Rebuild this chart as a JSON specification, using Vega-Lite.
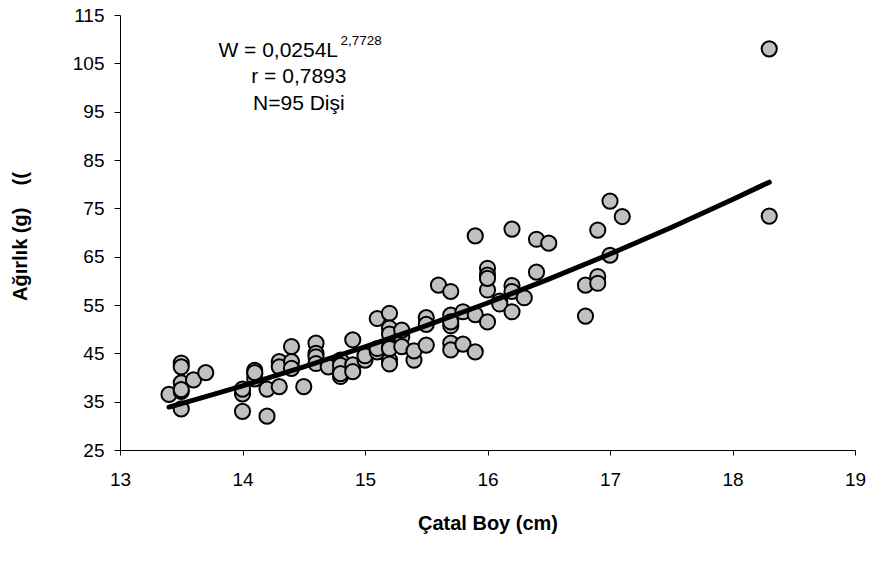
{
  "$schema": "https://vega.github.io/schema/vega-lite/v6.json",
  "width": 735,
  "height": 435,
  "autosize": {"type": "none"},
  "padding": {"left": 120, "top": 15, "right": 14, "bottom": 112},
  "background": "white",
  "config": {
    "view": {"stroke": null},
    "font": "Liberation Sans",
    "axis": {
      "grid": false,
      "labelFlush": false,
      "labelOverlap": false,
      "domainColor": "black",
      "domainWidth": 1,
      "tickColor": "black",
      "tickWidth": 1,
      "labelColor": "black",
      "labelFont": "Liberation Sans",
      "labelFontSize": 19,
      "titleFont": "Liberation Sans",
      "titleFontSize": 20,
      "titleFontWeight": "bold",
      "titleColor": "black"
    }
  },
  "datasets": {
    "points": [
      {"L": 13.4, "W": 36.5}, {"L": 13.5, "W": 33.5}, {"L": 13.5, "W": 37.1}, {"L": 13.5, "W": 38.9},
      {"L": 13.5, "W": 43.0}, {"L": 13.5, "W": 42.2}, {"L": 13.6, "W": 39.5}, {"L": 13.7, "W": 41.0},
      {"L": 13.5, "W": 37.5},
      {"L": 14.0, "W": 36.6}, {"L": 14.0, "W": 37.6}, {"L": 14.0, "W": 33.0}, {"L": 14.1, "W": 41.5},
      {"L": 14.1, "W": 40.8}, {"L": 14.1, "W": 39.7}, {"L": 14.1, "W": 41.0}, {"L": 14.2, "W": 32.0},
      {"L": 14.2, "W": 37.6}, {"L": 14.3, "W": 38.1}, {"L": 14.3, "W": 43.3}, {"L": 14.3, "W": 42.2},
      {"L": 14.4, "W": 46.4}, {"L": 14.4, "W": 43.3}, {"L": 14.4, "W": 41.9}, {"L": 14.5, "W": 38.1},
      {"L": 14.6, "W": 47.1}, {"L": 14.6, "W": 45.0}, {"L": 14.6, "W": 44.3}, {"L": 14.6, "W": 42.9},
      {"L": 14.7, "W": 42.2},
      {"L": 14.8, "W": 43.6}, {"L": 14.8, "W": 41.2}, {"L": 14.8, "W": 40.2}, {"L": 14.8, "W": 42.5},
      {"L": 14.8, "W": 40.8},
      {"L": 14.9, "W": 47.8}, {"L": 14.9, "W": 42.6}, {"L": 14.9, "W": 41.2},
      {"L": 15.0, "W": 43.6}, {"L": 15.0, "W": 44.5},
      {"L": 15.1, "W": 52.2}, {"L": 15.1, "W": 45.3}, {"L": 15.1, "W": 46.0},
      {"L": 15.2, "W": 53.3}, {"L": 15.2, "W": 50.2}, {"L": 15.2, "W": 46.4}, {"L": 15.2, "W": 43.6},
      {"L": 15.2, "W": 42.8}, {"L": 15.2, "W": 49.0}, {"L": 15.2, "W": 46.0},
      {"L": 15.3, "W": 48.4}, {"L": 15.3, "W": 46.4}, {"L": 15.3, "W": 49.8},
      {"L": 15.4, "W": 43.6}, {"L": 15.4, "W": 45.5},
      {"L": 15.5, "W": 52.4}, {"L": 15.5, "W": 51.0}, {"L": 15.5, "W": 46.7},
      {"L": 15.6, "W": 59.1},
      {"L": 15.7, "W": 57.8}, {"L": 15.7, "W": 52.9}, {"L": 15.7, "W": 50.7}, {"L": 15.7, "W": 47.1},
      {"L": 15.7, "W": 45.7}, {"L": 15.7, "W": 51.5},
      {"L": 15.8, "W": 53.6}, {"L": 15.8, "W": 46.9},
      {"L": 15.9, "W": 69.3}, {"L": 15.9, "W": 53.0}, {"L": 15.9, "W": 45.3},
      {"L": 16.0, "W": 62.6}, {"L": 16.0, "W": 61.2}, {"L": 16.0, "W": 58.1}, {"L": 16.0, "W": 51.5},
      {"L": 16.0, "W": 60.5},
      {"L": 16.1, "W": 55.8}, {"L": 16.1, "W": 55.2},
      {"L": 16.2, "W": 70.7}, {"L": 16.2, "W": 59.0}, {"L": 16.2, "W": 57.8}, {"L": 16.2, "W": 53.6},
      {"L": 16.3, "W": 56.5},
      {"L": 16.4, "W": 68.6}, {"L": 16.4, "W": 61.8},
      {"L": 16.5, "W": 67.8},
      {"L": 16.8, "W": 59.1}, {"L": 16.8, "W": 52.7},
      {"L": 16.9, "W": 70.5}, {"L": 16.9, "W": 60.9}, {"L": 16.9, "W": 59.5},
      {"L": 17.0, "W": 76.5}, {"L": 17.0, "W": 65.3},
      {"L": 17.1, "W": 73.3},
      {"L": 18.3, "W": 108.0}, {"L": 18.3, "W": 73.4}
    ],
    "fit": [
      {"L": 13.4, "W": 33.89}, {"L": 13.7, "W": 36.04}, {"L": 14.0, "W": 38.27}, {"L": 14.5, "W": 42.18},
      {"L": 15.0, "W": 46.33}, {"L": 15.5, "W": 50.74}, {"L": 16.0, "W": 55.41}, {"L": 16.5, "W": 60.35},
      {"L": 17.0, "W": 65.55}, {"L": 17.5, "W": 71.05}, {"L": 18.0, "W": 76.82}, {"L": 18.3, "W": 80.42}
    ],
    "eq": [{"L": 14.78, "W": 106.4, "t": "W = 0,0254L"}],
    "sup": [{"L": 14.80, "W": 108.8, "t": "2,7728"}],
    "rline": [{"L": 14.46, "W": 100.87, "t": "r = 0,7893"}],
    "nline": [{"L": 14.46, "W": 95.35, "t": "N=95 Dişi"}]
  },
  "encoding": {
    "x": {
      "field": "L",
      "type": "quantitative",
      "scale": {"domain": [13, 19], "nice": false, "zero": false},
      "axis": {
        "values": [13, 14, 15, 16, 17, 18, 19],
        "tickSize": 5,
        "labelPadding": 15,
        "title": "Çatal Boy (cm)",
        "titleX": 367.5,
        "titleY": 79,
        "titleBaseline": "alphabetic",
        "titleAlign": "center"
      }
    },
    "y": {
      "field": "W",
      "type": "quantitative",
      "scale": {"domain": [25, 115], "nice": false, "zero": false},
      "axis": {
        "values": [25, 35, 45, 55, 65, 75, 85, 95, 105, 115],
        "tickSize": 6,
        "labelPadding": 10,
        "title": "Ağırlık (g)\u00a0\u00a0\u00a0\u00a0((",
        "titleX": -94,
        "titleY": 221,
        "titleAngle": -90,
        "titleBaseline": "alphabetic",
        "titleAlign": "center"
      }
    }
  },
  "layer": [
    {
      "data": {"name": "points"},
      "mark": {"type": "point", "shape": "circle", "filled": true, "fill": "#C0C0C0", "stroke": "black", "strokeWidth": 2, "size": 230, "opacity": 1}
    },
    {
      "data": {"name": "fit"},
      "mark": {"type": "line", "color": "black", "strokeWidth": 5, "strokeCap": "round"}
    },
    {
      "data": {"name": "eq"},
      "mark": {"type": "text", "align": "right", "baseline": "alphabetic", "fontSize": 21, "color": "black"},
      "encoding": {"text": {"field": "t"}}
    },
    {
      "data": {"name": "sup"},
      "mark": {"type": "text", "align": "left", "baseline": "alphabetic", "fontSize": 13.5, "color": "black"},
      "encoding": {"text": {"field": "t"}}
    },
    {
      "data": {"name": "rline"},
      "mark": {"type": "text", "align": "center", "baseline": "alphabetic", "fontSize": 21, "color": "black"},
      "encoding": {"text": {"field": "t"}}
    },
    {
      "data": {"name": "nline"},
      "mark": {"type": "text", "align": "center", "baseline": "alphabetic", "fontSize": 21, "color": "black"},
      "encoding": {"text": {"field": "t"}}
    }
  ]
}
